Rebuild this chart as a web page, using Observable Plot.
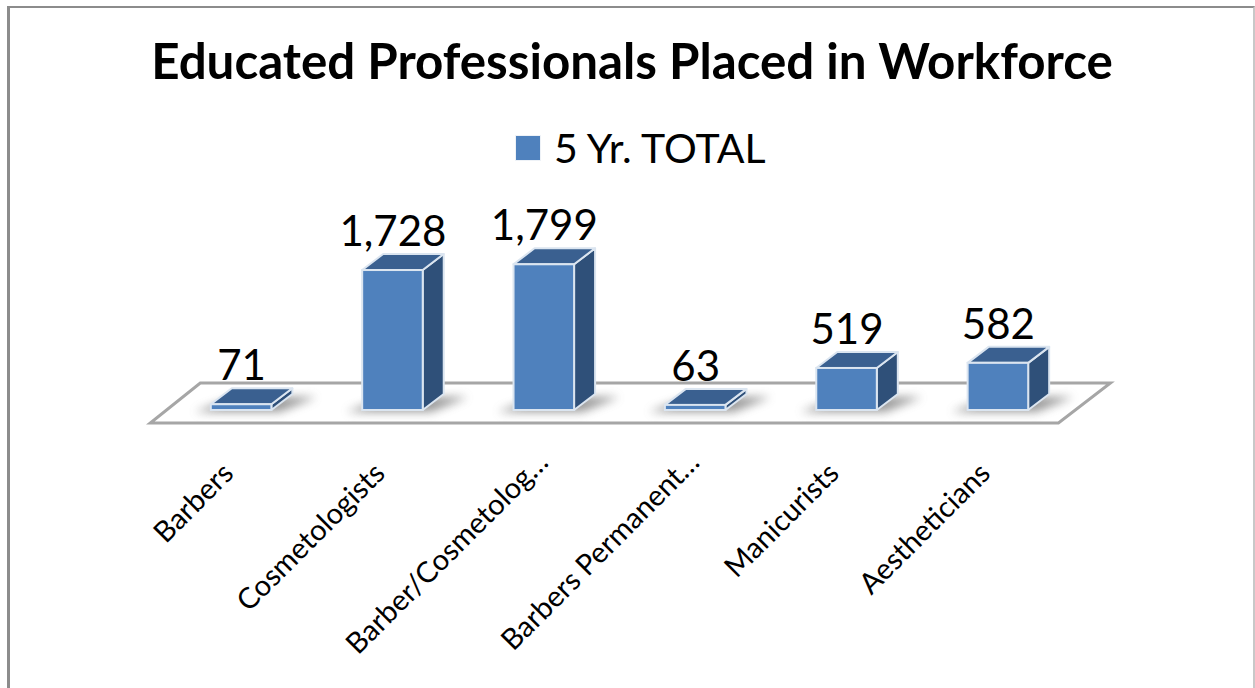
<!DOCTYPE html>
<html>
<head>
<meta charset="utf-8">
<script src="https://cdn.jsdelivr.net/npm/d3@7"></script>
<script src="https://cdn.jsdelivr.net/npm/@observablehq/plot@0.6"></script>
<style>
  html, body { margin: 0; padding: 0; background: #fff; overflow: hidden; }
  #page { position: relative; width: 1255px; height: 688px; overflow: hidden; font-family: Lato, "Open Sans", sans-serif; color: #000; }
  #edge { position: absolute; left: 7px; top: 6px; width: 1248px; height: 800px; border: 2px solid #8c8c8c; border-left-width: 3px; border-right-color: #c8c8c8; box-sizing: border-box; }
  #head { position: relative; height: 180px; }
  #title { position: absolute; left: 0; width: 1264px; top: 32px; text-align: center; font-size: 49.3px; line-height: 56px; font-weight: 700; }
  #legend { position: absolute; left: 516px; top: 124px; display: flex; align-items: center; height: 46px; font-size: 41px; }
  #swatch { width: 24px; height: 24px; background: #4f81bd; margin-right: 14px; margin-top: 2px; outline: 1px solid #eef2f7; }
  #chart { position: relative; }
  svg { display: block; }
</style>
</head>
<body>
<div id="page">
  <div id="edge"></div>
  <div id="head">
    <div id="title">Educated Professionals Placed in Workforce</div>
    <div id="legend"><div id="swatch"></div><div id="legendText">5 Yr. TOTAL</div></div>
  </div>
  <div id="chart"></div>
</div>
<script>
const categories = ["Barbers", "Cosmetologists", "Barber/Cosmetolog…", "Barbers Permanent…", "Manicurists", "Aestheticians"];
const totals = [71, 1728, 1799, 63, 519, 582];
const truncated = ["Barber/Cosmetolog…", "Barbers Permanent…"];
const plain = ["Barbers", "Cosmetologists", "Manicurists", "Aestheticians"];
const rows = categories.map((category, i) => ({category, total: totals[i]}));

const depth = {dx: 21, dy: -16};
const colors = {front: "#4f81bd", side: "#2f5079", top: "#3a6090", edge: "#dbe5f0", floor: "#a6a6a6"};
const points = (pts) => pts.map((p) => p.join(",")).join(" ");

function floorMark(index, {x, y}) {
  const w = x.bandwidth();
  const y0 = y(0);
  const l = x(categories[0]) - w;
  const r = x(categories[categories.length - 1]) + 1.5 * w;
  const g = d3.create("svg:g");
  g.append("polygon")
    .attr("points", points([[l, y0 + 13], [r, y0 + 13], [r + 52, y0 - 27], [l + 50, y0 - 27]]))
    .attr("fill", "#fff").attr("stroke", colors.floor).attr("stroke-width", 3);
  const defs = g.append("defs");
  defs.append("filter").attr("id", "soft").attr("x", "-40%").attr("y", "-80%").attr("width", "180%").attr("height", "260%")
    .append("feGaussianBlur").attr("stdDeviation", 5);
  for (const c of categories) {
    const a = x(c);
    g.append("polygon")
      .attr("points", points([[a - 16, y0 + 2], [a + w + 8, y0 + 2], [a + w + depth.dx + 24, y0 + depth.dy + 3], [a + depth.dx + 4, y0 + depth.dy + 3]]))
      .attr("fill", "#6e6e6e").attr("opacity", 0.7).attr("filter", "url(#soft)");
  }
  return g.node();
}

function depthFaces(index, {x, y}) {
  const w = x.bandwidth();
  const y0 = y(0);
  const g = d3.create("svg:g").attr("stroke", colors.edge).attr("stroke-width", 2).attr("stroke-linejoin", "round");
  for (const d of rows) {
    const a = x(d.category), t = y(d.total), {dx, dy} = depth;
    g.append("polygon").attr("fill", colors.side)
      .attr("points", points([[a + w, y0], [a + w + dx, y0 + dy], [a + w + dx, t + dy], [a + w, t]]));
    g.append("polygon").attr("fill", colors.top)
      .attr("points", points([[a, t], [a + w, t], [a + w + dx, t + dy], [a + dx, t + dy]]));
  }
  return g.node();
}

const plot = Plot.plot({
  width: 1255,
  height: 508,
  marginLeft: 120,
  marginRight: 136,
  marginTop: 68,
  marginBottom: 278,
  style: {fontFamily: "Lato, 'Open Sans', sans-serif", background: "transparent", color: "#000", overflow: "visible"},
  x: {domain: categories, padding: 0.6, round: false, label: null},
  y: {domain: [0, 2000], axis: null, label: null},
  marks: [
    floorMark,
    depthFaces,
    Plot.barY(rows, {x: "category", y: "total", fill: colors.front, stroke: colors.edge, strokeWidth: 2}),
    Plot.text(rows, {x: "category", y: "total", text: (d) => d3.format(",")(d.total), dy: -38, fontSize: 42, fill: "#000"}),
    Plot.axisX(plain, {tickRotate: -45, tickSize: 0, tickPadding: 58, fontSize: 29, label: null, fill: "#000", fontWeight: 400, dx: -13}),
    Plot.axisX(truncated, {tickRotate: -45, tickSize: 0, tickPadding: 47, fontSize: 29, label: null, fill: "#000", fontWeight: 400, dx: -1})
  ]
});
document.getElementById("chart").append(plot);
</script>
</body>
</html>
